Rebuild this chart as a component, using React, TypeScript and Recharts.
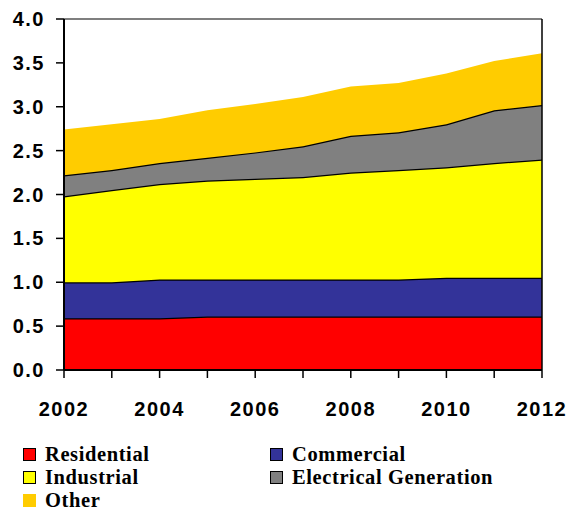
import React from "react";
import {
  AreaChart,
  Area,
  XAxis,
  YAxis,
  CartesianGrid,
  Legend,
} from "recharts";

const years = [2002, 2003, 2004, 2005, 2006, 2007, 2008, 2009, 2010, 2011, 2012];
const residential = [0.59, 0.59, 0.59, 0.61, 0.61, 0.61, 0.61, 0.61, 0.61, 0.61, 0.61];
const commercial = [0.41, 0.41, 0.44, 0.42, 0.42, 0.42, 0.42, 0.42, 0.44, 0.44, 0.44];
const industrial = [0.98, 1.05, 1.09, 1.13, 1.15, 1.17, 1.22, 1.25, 1.26, 1.31, 1.35];
const electrical = [0.24, 0.23, 0.24, 0.26, 0.3, 0.35, 0.42, 0.43, 0.49, 0.6, 0.62];
const other = [0.52, 0.52, 0.5, 0.54, 0.55, 0.56, 0.56, 0.56, 0.58, 0.56, 0.59];

const yTicks = [0, 0.5, 1, 1.5, 2, 2.5, 3, 3.5, 4];
const xTicks = years;

const series = [
  { key: "residential", name: "Residential", color: "#FF0000", values: residential, border: true },
  { key: "commercial", name: "Commercial", color: "#333399", values: commercial, border: true },
  { key: "industrial", name: "Industrial", color: "#FFFF00", values: industrial, border: true },
  { key: "electrical", name: "Electrical Generation", color: "#808080", values: electrical, border: true },
  { key: "other", name: "Other", color: "#FFCC00", values: other, border: false },
];

const data = years.map((y, i) => {
  const row: any = { year: y };
  series.forEach((s) => (row[s.key] = s.values[i]));
  return row;
});

const axisFont = {
  fontFamily: "'Liberation Sans', Arial, sans-serif",
  fontWeight: 700,
  fontSize: 20,
  fill: "#000",
  letterSpacing: 1.5,
};

const legendLayout = [
  { key: "residential", left: 23, top: 44 },
  { key: "commercial", left: 270, top: 44 },
  { key: "industrial", left: 23, top: 67 },
  { key: "electrical", left: 270, top: 67 },
  { key: "other", left: 23, top: 90 },
];

const renderLegend = () => (
  <div style={{ position: "relative", width: 572, height: 100 }}>
    {legendLayout.map((l) => {
      const s = series.find((x) => x.key === l.key)!;
      return (
        <div
          key={l.key}
          style={{
            position: "absolute",
            left: l.left,
            top: l.top - 10,
            height: 20,
            display: "flex",
            alignItems: "center",
            whiteSpace: "nowrap",
          }}
        >
          <span
            style={{
              display: "inline-block",
              width: s.border ? 11 : 13,
              height: s.border ? 11 : 13,
              background: s.color,
              border: s.border ? "1px solid #000" : "none",
              marginRight: 9,
            }}
          />
          <span
            style={{
              fontFamily: "'Liberation Serif', 'Times New Roman', serif",
              fontWeight: 700,
              fontSize: 20.5,
              color: "#000",
              lineHeight: "20px",
              letterSpacing: 0.6,
            }}
          >
            {s.name}
          </span>
        </div>
      );
    })}
  </div>
);

export default function App() {
  return (
    <div style={{ position: "absolute", left: 0, top: 0, width: 572, height: 510, background: "#fff" }}>
      <AreaChart
        width={572}
        height={510}
        data={data}
        margin={{ top: 19, right: 26, left: 0, bottom: 0 }}
      >
        <CartesianGrid horizontal={true} vertical={false} stroke="#000" strokeWidth={1.2} />
        <XAxis
          dataKey="year"
          type="number"
          domain={[2002, 2012]}
          ticks={xTicks}
          interval={0}
          tickFormatter={(v: number) => (v % 2 === 0 ? String(v) : "")}
          height={40}
          tickSize={8}
          tickMargin={24}
          axisLine={{ stroke: "#000", strokeWidth: 2 }}
          tickLine={{ stroke: "#000", strokeWidth: 1.5 }}
          tick={axisFont}
        />
        <YAxis
          yAxisId="left"
          domain={[0, 4]}
          ticks={yTicks}
          interval={0}
          tickFormatter={(v: number) => v.toFixed(1)}
          width={64}
          tickSize={8}
          tickMargin={11}
          axisLine={{ stroke: "#000", strokeWidth: 2 }}
          tickLine={{ stroke: "#000", strokeWidth: 1.5 }}
          tick={axisFont}
        />
        <YAxis
          yAxisId="right"
          orientation="right"
          domain={[0, 4]}
          ticks={yTicks}
          interval={0}
          width={4}
          tickSize={3}
          tick={false}
          axisLine={{ stroke: "#000", strokeWidth: 1.5 }}
          tickLine={{ stroke: "#000", strokeWidth: 1 }}
        />
        {series.map((s) => (
          <Area
            key={s.key}
            yAxisId="left"
            type="linear"
            dataKey={s.key}
            name={s.name}
            stackId="1"
            fill={s.color}
            fillOpacity={1}
            stroke={s.border ? "#000" : "none"}
            strokeWidth={s.border ? 2.5 : 0}
            isAnimationActive={false}
            dot={false}
            activeDot={false}
          />
        ))}
        <Legend
          verticalAlign="bottom"
          align="left"
          content={renderLegend}
          wrapperStyle={{ left: 0, width: 572, height: 100 }}
        />
      </AreaChart>
    </div>
  );
}
